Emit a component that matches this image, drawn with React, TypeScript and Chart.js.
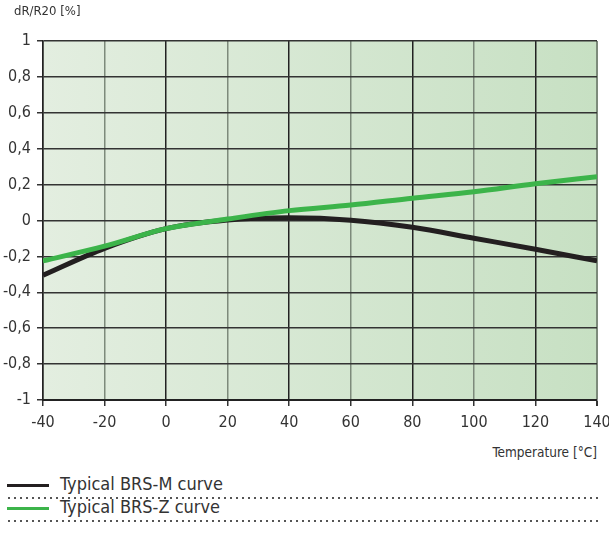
import React, { useEffect, useRef } from "react";
import { Chart, registerables } from "chart.js";

Chart.register(...registerables);

const temperatures = [-40, -20, 0, 20, 40, 60, 80, 100, 120, 140];
const brsM = [-0.305, -0.155, -0.045, 0.003, 0.015, 0.002, -0.038, -0.099, -0.16, -0.225];
const brsZ = [-0.225, -0.143, -0.045, 0.008, 0.055, 0.086, 0.124, 0.16, 0.205, 0.244];
const seriesNames = ["Typical BRS-M curve", "Typical BRS-Z curve"];
const seriesColors = ["#231f20", "#3cb44a"];
const yTitle = "dR/R20 [%]";
const xTitle = "Temperature [°C]";

const FONT = "'Liberation Sans Narrow', 'DejaVu Sans Condensed', 'Roboto', sans-serif";

const bgPlugin = {
  id: "bgGrad",
  beforeDraw(chart: any) {
    const { ctx, chartArea } = chart;
    if (!chartArea) return;
    const g = ctx.createLinearGradient(chartArea.left, 0, chartArea.right, 0);
    g.addColorStop(0, "#e3eee0");
    g.addColorStop(1, "#c7e0c3");
    ctx.save();
    ctx.fillStyle = g;
    ctx.fillRect(chartArea.left, chartArea.top, chartArea.right - chartArea.left, chartArea.bottom - chartArea.top);
    ctx.restore();
  },
};

export default function App() {
  const ref = useRef<HTMLCanvasElement>(null);
  useEffect(() => {
    document.body.style.margin = "0";
    const chart = new Chart(ref.current as HTMLCanvasElement, {
      type: "line",
      data: {
        datasets: [brsM, brsZ].map((vals, i) => ({
          label: seriesNames[i],
          data: temperatures.map((t, j) => ({ x: t, y: vals[j] })),
          borderColor: seriesColors[i],
          borderWidth: 5,
          pointRadius: 0,
          cubicInterpolationMode: "monotone" as const,
          fill: false,
        })).reverse(),
      },
      options: {
        responsive: false,
        animation: false,
        layout: { padding: { top: 41, right: 12, left: 0, bottom: 0 } },
        plugins: { legend: { display: false }, tooltip: { enabled: false } },
        scales: {
          x: {
            type: "linear",
            min: -40,
            max: 140,
            afterFit(s: any) { s.height = 40; s.paddingRight = 0; s.paddingLeft = 0; },
            ticks: {
              stepSize: 20,
              color: "#333",
              font: { family: FONT, size: 16 },
              padding: 7,
            },
            grid: {
              color: (c: any) => (c.index % 2 === 1 ? "#7d8a7b" : "#222"),
              lineWidth: (c: any) => (c.index === 9 ? 2 : 1.5),
              tickLength: 6,
              tickColor: "#333",
            },
            border: { display: true, color: "#222", width: 2 },
          },
          y: {
            type: "linear",
            min: -1,
            max: 1,
            afterFit(s: any) { s.width = 43; },
            ticks: {
              stepSize: 0.2,
              color: "#333",
              font: { family: FONT, size: 16 },
              padding: 6,
              callback: (v: any) => {
                const r = Math.round(Number(v) * 10) / 10;
                return String(r).replace(".", ",");
              },
            },
            grid: {
              color: "#333",
              lineWidth: 1.5,
              tickLength: 6,
              tickColor: "#333",
            },
            border: { display: true, color: "#222", width: 1.5 },
          },
        },
      },
      plugins: [bgPlugin],
    });
    return () => chart.destroy();
  }, []);

  const dotted: React.CSSProperties = {
    position: "absolute",
    left: 8,
    width: 594,
    height: 2,
    backgroundImage: "linear-gradient(to right, #555 2px, transparent 2px)",
    backgroundSize: "6px 2px",
    backgroundRepeat: "repeat-x",
  };

  return (
    <div style={{ position: "relative", width: 609, height: 533, fontFamily: FONT }}>
      <canvas ref={ref} width={609} height={440} style={{ position: "absolute", left: 0, top: 0 }} />
      <div style={{ position: "absolute", left: 14, top: 3, fontSize: 13, color: "#333" }}>{yTitle}</div>
      <div style={{ position: "absolute", right: 12, top: 444, fontSize: 13.5, color: "#333" }}>{xTitle}</div>
      {seriesNames.map((n, i) => (
        <React.Fragment key={n}>
          <div style={{ position: "absolute", left: 7, top: 484 + i * 23, width: 42, height: 3, background: seriesColors[i] }} />
          <div style={{ position: "absolute", left: 60, top: 472 + i * 23, fontSize: 18, color: "#333", lineHeight: "24px" }}>{n}</div>
          <div style={{ ...dotted, top: 497 + i * 23 }} />
        </React.Fragment>
      ))}
    </div>
  );
}
